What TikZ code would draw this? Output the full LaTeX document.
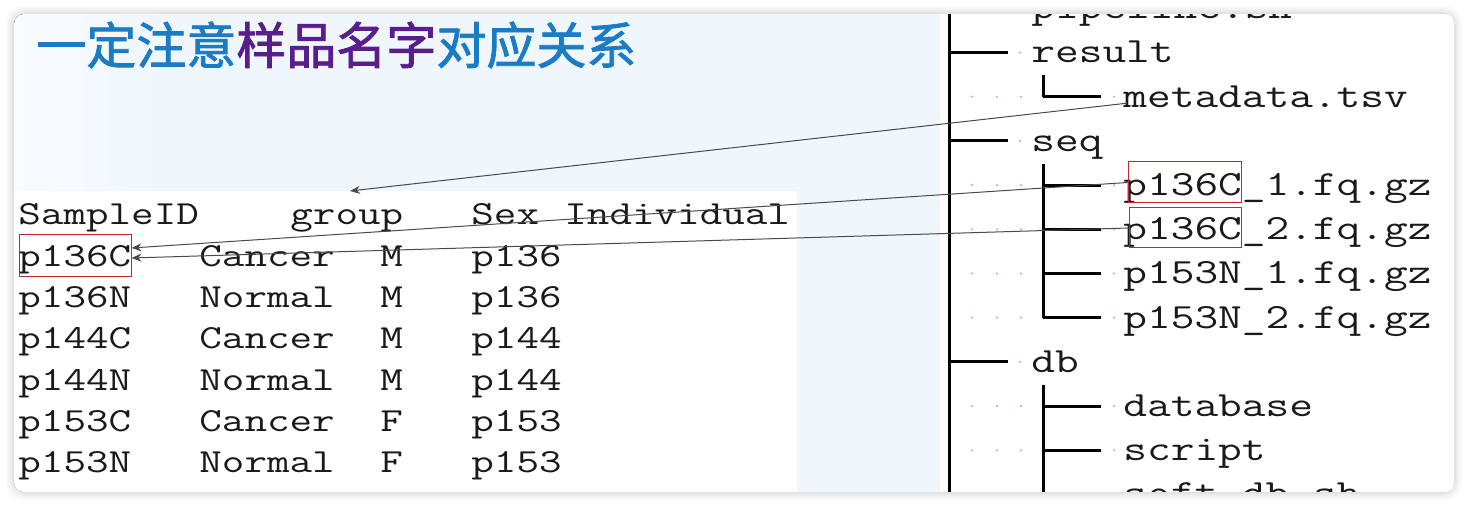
\documentclass[tikz,border=0pt]{standalone}
\usepackage{fontspec}
\newfontfamily\cjk[FakeBold=1.6]{Noto Sans CJK SC}
\newfontfamily\codefont[FakeStretch=1.3]{Latin Modern Mono}
\usetikzlibrary{arrows.meta,positioning}
\definecolor{tblue}{HTML}{1B7BC4}
\definecolor{tpurple}{HTML}{5A1E8C}
\definecolor{slide}{HTML}{EFF7FD}
\definecolor{mark}{HTML}{C0282D}
\definecolor{dotc}{HTML}{F2A66A}
\definecolor{wire}{HTML}{4A4A4A}
\definecolor{ink}{HTML}{1A1A1A}

\begin{document}
\begin{tikzpicture}[x=0.5pt,y=-0.5pt,
      cell/.style={anchor=base west,inner sep=0pt,text=ink,
                   font=\codefont\fontsize{16.85}{20}\selectfont},
      leaf/.style={anchor=base west,inner sep=0pt,text=ink,
                   font=\codefont\fontsize{17.7}{20}\selectfont},
      idmark/.style={draw=mark,line width=0.5pt,inner sep=0pt},
      branch/.style={line width=1.5pt,black},
      link/.style={wire,line width=0.5pt,-{Stealth[length=5pt,width=4pt]}}]
    \useasboundingbox (0,0) rectangle (1468,506);
    \fill[white] (0,0) rectangle (1468,506);
    % card shadow
    \foreach \s/\o in {8/0.02,6/0.025,4/0.03,2/0.04}{
      \fill[black,opacity=\o,rounded corners=8pt] (14-\s,14-\s) rectangle (1454+\s,492+\s);}

    \begin{scope}
    \clip[rounded corners=5pt] (14,14) rectangle (1454,492);
    \fill[slide] (14,14) rectangle (1454,492);
    \fill[left color=white!60!slide,right color=slide] (14,14) rectangle (160,492);
    \fill[white] (14,191) rectangle (797,492);
    \fill[white] (940,14) rectangle (1454,492);

    % title
    \node[anchor=west,inner sep=0pt,font=\cjk\fontsize{25}{30}\selectfont] (title) at (36,45)
      {\textcolor{tblue}{一定注意}\textcolor{tpurple}{样品名字}\textcolor{tblue}{对应关系}};

    % metadata table
    \node[cell] (hid) at (18,225) {SampleID};
    \node[cell] (hgrp) at (290,225) {group};
    \node[cell] (hsex) at (471,225) {Sex};
    \node[cell] (hind) at (564,225) {Individual};
    \foreach \id/\grp/\sex/\ind [count=\i] in {p136C/Cancer/M/p136,p136N/Normal/M/p136,
        p144C/Cancer/M/p144,p144N/Normal/M/p144,p153C/Cancer/F/p153,p153N/Normal/F/p153}{
      \node[cell] (id\i) at (18,{225+41.3*\i}) {\id};
      \node[cell] (grp\i) at (199,{225+41.3*\i}) {\grp};
      \node[cell] (sex\i) at (380,{225+41.3*\i}) {\sex};
      \node[cell] (ind\i) at (471,{225+41.3*\i}) {\ind};}
    \node[idmark,minimum width=56pt,minimum height=21pt] (idbox) at (75,256) {};

    % directory tree
    \draw[branch] (949,14) -- (949,492);
    \foreach \k/\name [count=\i] in {-1/pipeline.sh,0/result,2/seq,7/db}{
      \draw[branch] (949,{52.5+44.2*\k}) -- (1008,{52.5+44.2*\k});
      \fill[dotc] (1020,{52.5+44.2*\k}) circle (0.6pt);
      \node[leaf] (dir\i) at (1031,{63+44.2*\k}) {\name};}
    \foreach \k/\name in {1/metadata.tsv,3/p136C\_1.fq.gz,4/p136C\_2.fq.gz,5/p153N\_1.fq.gz,
        6/p153N\_2.fq.gz,8/database,9/script,10/soft\_db.sh}{
      \foreach \x in {972,997,1021}{
        \fill[dotc] (\x,{52.5+44.2*\k}) circle (0.6pt);}
      \draw[branch] (1043,{52.5+44.2*\k}) -- (1101,{52.5+44.2*\k});
      \fill[dotc] (1114,{52.5+44.2*\k}) circle (0.6pt);
      \node[leaf] (file\k) at (1123,{63+44.2*\k}) {\name};}
    \draw[branch] (1043,75.2) -- (1043,96.7);
    \draw[branch] (1043,163.6) -- (1043,317.7);
    \draw[branch] (1043,384.6) -- (1043,492);
    \node[idmark,minimum width=56.5pt,minimum height=20.5pt] (fqbox1) at (1184.5,182.5) {};
    \node[idmark,minimum width=56pt,minimum height=20pt] (fqbox2) at (1185,228) {};
    \end{scope}

    % name links
    \coordinate (hdrtip) at (350,191);
    \draw[link] ([xshift=2pt,yshift=2pt]file1.base west) -- (hdrtip);
    \draw[link] (fqbox1.west) -- ([yshift=4pt]idbox.east);
    \draw[link] (fqbox2.west) -- ([yshift=-1pt]idbox.east);
  \end{tikzpicture}
\end{document}
